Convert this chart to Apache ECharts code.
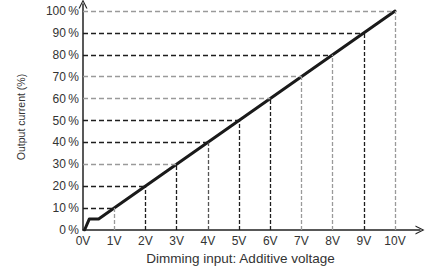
<!DOCTYPE html>
<html>
<head>
<meta charset="utf-8">
<script src="https://cdn.jsdelivr.net/npm/echarts@6/dist/echarts.min.js"></script>
<style>
  html, body { margin: 0; padding: 0; background: #fff; }
  #chart { width: 425px; height: 270px; }
</style>
</head>
<body>
<div id="chart"></div>
<script>
// dimming curve (volts -> output %)
const curveVolts = [0.05, 0.2, 0.5, 1, 10]
const curvePercent = [0, 5, 5, 10, 100]

// tick labels and guide levels
const voltTicks = [0, 1, 2, 3, 4, 5, 6, 7, 8, 9, 10]
const percentTicks = [0, 10, 20, 30, 40, 50, 60, 70, 80, 90, 100]
const hGuideLevels = [10, 20, 30, 40, 50, 60, 70, 80, 90, 100]
const vGuideVolts = [1, 2, 3, 4, 5, 6, 7, 8, 9, 10]

const DARK = '#1e1e1e'
const GRAY = '#9a9a9a'
const hGuideColors = [DARK, DARK, GRAY, DARK, DARK, GRAY, GRAY, DARK, DARK, GRAY]
const vGuideColors = [GRAY, DARK, DARK, '#555', DARK, DARK, GRAY, GRAY, DARK, GRAY]

// open chevron for the axis ends
const arrow = 'path://M5,0 L10,10 L8.6,10 L5,2.6 L1.4,10 L0,10 Z'
const font = 'Liberation Sans, Arial, sans-serif'

// straight part of the curve: 1V/10% to 10V/100%
function percentAt(v) {
  return curvePercent[3] + (v - curveVolts[3]) * (curvePercent[4] - curvePercent[3]) / (curveVolts[4] - curveVolts[3])
}
function voltsAt(p) {
  return curveVolts[3] + (p - curvePercent[3]) * (curveVolts[4] - curveVolts[3]) / (curvePercent[4] - curvePercent[3])
}

const guideLines = []
hGuideLevels.forEach((p, i) => {
  guideLines.push([
    { coord: [0, p], lineStyle: { color: hGuideColors[i], width: 1.3, type: [5, 3] } },
    { coord: [voltsAt(p), p] },
  ])
})
vGuideVolts.forEach((v, i) => {
  guideLines.push([
    { coord: [v, 0], lineStyle: { color: vGuideColors[i], width: 1.3, type: [4, 2] } },
    { coord: [v, percentAt(v)] },
  ])
})

const chart = echarts.init(document.getElementById('chart'), null, { renderer: 'svg' })
chart.setOption({
  animation: false,
  grid: { left: 83, right: 5, top: 4, bottom: 40, containLabel: false, outerBoundsMode: 'none' },
  xAxis: {
    type: 'value',
    min: 0,
    max: 10.8,
    interval: 1,
    name: 'Dimming input: Additive voltage',
    nameLocation: 'middle',
    nameGap: 21,
    nameTextStyle: { color: '#333', fontSize: 13.5, fontFamily: font, padding: [0, 22, 0, 0] },
    axisLine: { lineStyle: { color: '#222', width: 1.5 }, symbol: ['none', arrow], symbolSize: [9, 9], symbolOffset: [0, 0] },
    axisTick: { show: false },
    splitLine: { show: false },
    axisLabel: {
      color: '#333',
      fontSize: 12,
      fontFamily: font,
      margin: 5,
      formatter: v => voltTicks.includes(v) ? v + 'V' : '',
    },
  },
  yAxis: {
    type: 'value',
    min: 0,
    max: 103.2,
    interval: 10,
    name: 'Output current (%)',
    nameLocation: 'middle',
    nameGap: 57,
    nameTextStyle: { color: '#333', fontSize: 10.5, fontFamily: font },
    axisLine: { lineStyle: { color: '#222', width: 1.5 }, symbol: ['none', arrow], symbolSize: [9, 9], symbolOffset: [0, 0] },
    axisTick: { show: false },
    splitLine: { show: false },
    axisLabel: {
      color: '#333',
      fontSize: 12,
      fontFamily: font,
      margin: 4,
      formatter: v => percentTicks.includes(v) ? v + '\u2009%' : '',
    },
  },
  series: [
    {
      type: 'line',
      data: [],
      z: 1,
      silent: true,
      markLine: { silent: true, symbol: 'none', label: { show: false }, animation: false, data: guideLines },
    },
    {
      type: 'line',
      z: 3,
      data: curveVolts.map((v, i) => [v, curvePercent[i]]),
      showSymbol: false,
      lineStyle: { color: '#1a1a1a', width: 3, join: 'round', cap: 'round' },
    },
  ],
})
</script>
</body>
</html>
